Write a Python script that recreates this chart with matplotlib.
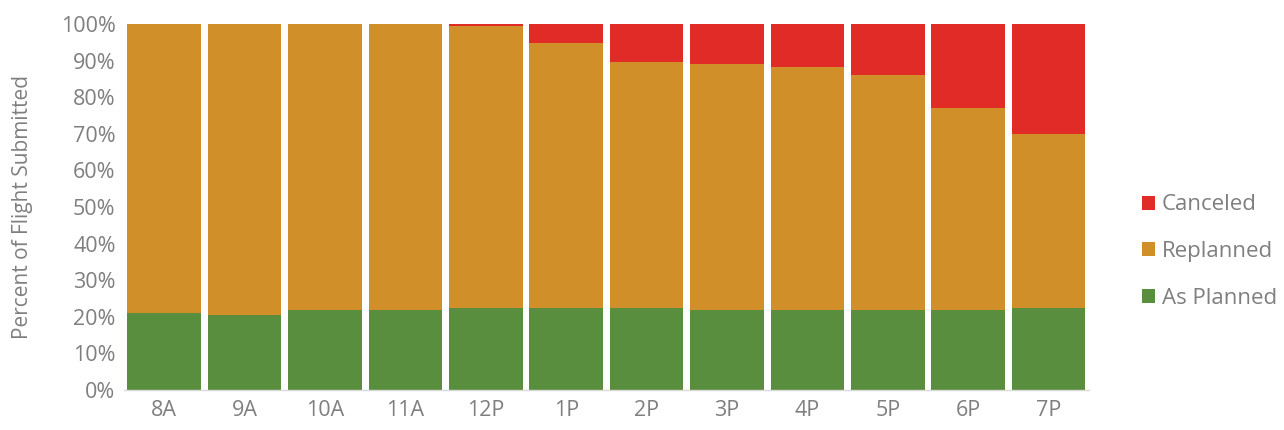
import matplotlib
matplotlib.use("Agg")
import matplotlib.pyplot as plt
from matplotlib.ticker import PercentFormatter, MultipleLocator

hours = ["8A", "9A", "10A", "11A", "12P", "1P", "2P", "3P", "4P", "5P", "6P", "7P"]
as_planned = [21.0, 20.6, 21.8, 22.0, 22.3, 22.3, 22.3, 22.0, 22.0, 22.0, 22.0, 22.3]
canceled = [0.0, 0.0, 0.0, 0.1, 0.5, 5.1, 10.3, 10.8, 11.7, 13.9, 22.9, 30.1]
replanned = [100 - a - c for a, c in zip(as_planned, canceled)]

green = "#5A8E3F"
orange = "#D18F29"
red = "#E02B27"
text_grey = "#7F7F7F"

plt.rcParams["font.family"] = ["Open Sans", "DejaVu Sans"]

fig = plt.figure(figsize=(12.84, 4.30), dpi=100)
ax = fig.add_axes([0.0965, 0.093, 0.7515, 0.851])

x = range(len(hours))
width = 0.915
b1 = ax.bar(x, as_planned, width, color=green, label="As Planned")
b2 = ax.bar(x, replanned, width, bottom=as_planned, color=orange, label="Replanned")
bottoms = [a + r for a, r in zip(as_planned, replanned)]
b3 = ax.bar(x, canceled, width, bottom=bottoms, color=red, label="Canceled")

ax.set_xlim(-0.5, len(hours) - 0.5)
ax.set_ylim(0, 100)
ax.yaxis.set_major_locator(MultipleLocator(10))
ax.yaxis.set_major_formatter(PercentFormatter(decimals=0))
ax.set_xticks(list(x))
ax.set_xticklabels(hours)

for s in ["top", "right", "left"]:
    ax.spines[s].set_visible(False)
ax.spines["bottom"].set_color("#D9D9D9")
ax.spines["bottom"].set_linewidth(1.0)

ax.tick_params(axis="both", length=0, labelsize=15.5, colors=text_grey)
ax.tick_params(axis="x", pad=7)
ax.tick_params(axis="y", pad=6)
ax.set_ylabel("Percent of Flight Submitted", fontsize=15, color=text_grey)
ax.yaxis.set_label_coords(-0.094, 0.5)

leg = fig.legend(handles=[b3, b2, b1], labels=["Canceled", "Replanned", "As Planned"],
                 loc="center left", bbox_to_anchor=(0.8805, 0.415), frameon=False,
                 fontsize=16, labelcolor=text_grey, handlelength=0.6, handleheight=0.6,
                 handletextpad=0.3, labelspacing=1.15, borderpad=0)

fig.savefig("out.png", dpi=100, facecolor="white")
